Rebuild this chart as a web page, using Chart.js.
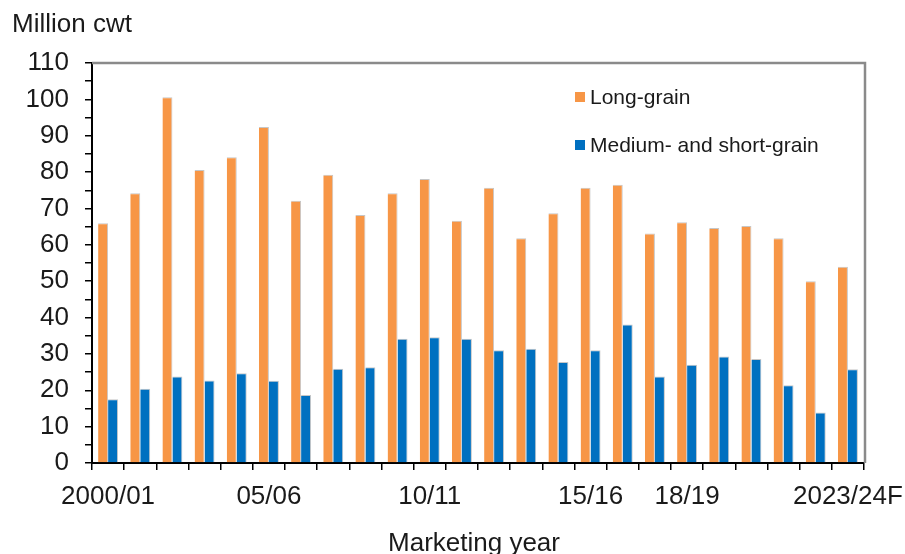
<!DOCTYPE html>
<html>
<head>
<meta charset="utf-8">
<script src="https://cdn.jsdelivr.net/npm/chart.js@4/dist/chart.umd.min.js"></script>
<style>
  html, body { margin: 0; padding: 0; background: #ffffff; }
  #wrap { width: 905px; height: 554px; position: relative; }
</style>
</head>
<body>
<div id="wrap"><canvas id="chart" width="905" height="554"></canvas></div>
<script>
// Marketing years on the category axis
const categories = ['2000/01','01/02','02/03','03/04','04/05','05/06','06/07','07/08','08/09','09/10',
  '10/11','11/12','12/13','13/14','14/15','15/16','16/17','17/18','18/19','19/20','20/21','21/22','22/23','2023/24F'];
// Only these years carry a printed label
const shownYears = ['2000/01','05/06','10/11','15/16','18/19','2023/24F'];

// Supply by class, million cwt
const longGrain = [65.9, 74.2, 100.6, 80.6, 84.1, 92.4, 72.1, 79.3, 68.2, 74.2, 78.1, 66.6,
  75.7, 61.8, 68.7, 75.7, 76.5, 63.1, 66.2, 64.6, 65.2, 61.8, 50.0, 54.0];
const mediumShortGrain = [17.5, 20.4, 23.8, 22.7, 24.7, 22.6, 18.7, 25.9, 26.3, 34.2, 34.6, 34.2,
  31.0, 31.4, 27.8, 31.0, 38.1, 23.8, 27.0, 29.3, 28.6, 21.4, 13.9, 25.8];

// Value axis: 0 to 110, tick marks every 5, labels every 10
const yMin = 0, yMax = 110, yMinorStep = 5, yLabelStep = 10;

const seriesNames = ['Long-grain', 'Medium- and short-grain'];
const seriesColors = ['#F79646', '#0070C0'];

const FONT = '"Liberation Sans", Arial, sans-serif';

// Gray frame on the top and right of the plot area
const framePlugin = {
  id: 'frame',
  afterDatasetsDraw(chart) {
    const { ctx, chartArea: a } = chart;
    ctx.save();
    ctx.strokeStyle = '#8a8a8a';
    ctx.lineWidth = 2.5;
    ctx.beginPath();
    ctx.moveTo(a.left, a.top);
    ctx.lineTo(a.right + 1, a.top);
    ctx.lineTo(a.right + 1, a.bottom);
    ctx.stroke();
    ctx.restore();
  }
};

// Legend inside the plot and the two axis titles
const annotationPlugin = {
  id: 'annotations',
  afterDraw(chart) {
    const { ctx } = chart;
    ctx.save();
    // legend
    ctx.font = '21px ' + FONT;
    ctx.textBaseline = 'middle';
    ctx.textAlign = 'left';
    chart.data.datasets.forEach((ds, i) => {
      const y = 97 + i * 48;
      ctx.fillStyle = ds.backgroundColor;
      ctx.fillRect(575, y - 5, 10, 10);
      ctx.fillStyle = '#1a1a1a';
      ctx.fillText(ds.label, 590, y + 1);
    });
    // axis titles
    ctx.font = '26px ' + FONT;
    ctx.fillStyle = '#1a1a1a';
    ctx.textBaseline = 'alphabetic';
    ctx.textAlign = 'left';
    ctx.fillText('Million cwt', 12, 32);
    ctx.textAlign = 'center';
    ctx.fillText('Marketing year', 474, 551);
    ctx.restore();
  }
};

new Chart(document.getElementById('chart'), {
  type: 'bar',
  data: {
    labels: categories,
    datasets: [
      {
        label: seriesNames[0],
        data: longGrain,
        backgroundColor: seriesColors[0],
        borderColor: '#c6c6c6',
        borderWidth: { top: 1, right: 1, left: 0, bottom: 0 },
        categoryPercentage: 0.62,
        barPercentage: 1.0
      },
      {
        label: seriesNames[1],
        data: mediumShortGrain,
        backgroundColor: seriesColors[1],
        borderColor: '#c6c6c6',
        borderWidth: { top: 1, right: 1, left: 0, bottom: 0 },
        categoryPercentage: 0.62,
        barPercentage: 1.0
      }
    ]
  },
  options: {
    responsive: false,
    animation: false,
    events: [],
    layout: { padding: { top: 63, right: 41, bottom: 0, left: 0 } },
    plugins: {
      legend: { display: false },
      tooltip: { enabled: false }
    },
    scales: {
      x: {
        offset: true,
        grid: {
          offset: true,
          drawOnChartArea: false,
          drawTicks: true,
          tickLength: 7,
          color: '#000000',
          lineWidth: 1.5
        },
        border: { display: true, color: '#000000', width: 2 },
        ticks: {
          autoSkip: false,
          maxRotation: 0,
          minRotation: 0,
          padding: 11,
          color: '#1a1a1a',
          font: { family: FONT, size: 26 },
          callback(value, index) {
            const lab = categories[index];
            return shownYears.includes(lab) ? lab : '';
          }
        },
        afterFit(scale) {
          scale.height = 91;
          scale.paddingLeft = 0;
          scale.paddingRight = 0;
        }
      },
      y: {
        min: yMin,
        max: yMax,
        grid: {
          drawOnChartArea: false,
          drawTicks: true,
          tickLength: 7,
          color: '#000000',
          lineWidth: 1.5
        },
        border: { display: true, color: '#000000', width: 2 },
        ticks: {
          stepSize: yMinorStep,
          autoSkip: false,
          padding: 16,
          color: '#1a1a1a',
          font: { family: FONT, size: 26 },
          callback(value) {
            return value % yLabelStep === 0 ? String(value) : '';
          }
        },
        afterFit(scale) { scale.width = 92; }
      }
    }
  },
  plugins: [framePlugin, annotationPlugin]
});
</script>
</body>
</html>
